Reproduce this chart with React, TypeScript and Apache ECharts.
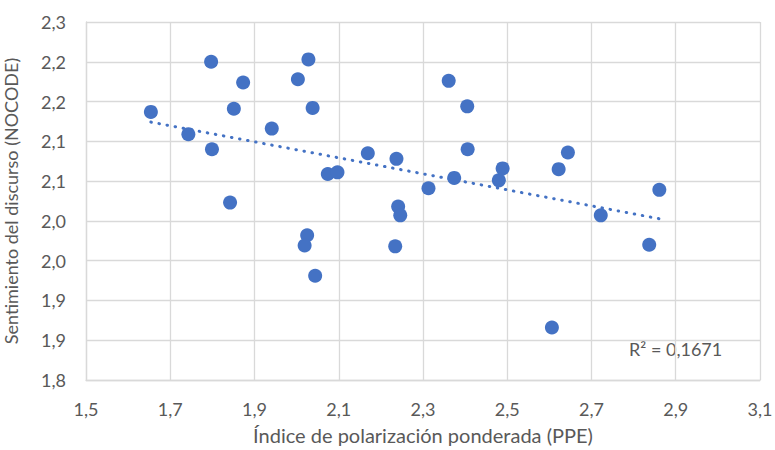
import React, { useEffect, useRef } from "react";
import * as echarts from "echarts";

const ppe = [
  1.654, 1.743, 1.797, 1.799, 1.842, 1.851, 1.873, 1.941, 2.003, 2.028, 2.038,
  2.025, 2.019, 2.044, 2.074, 2.097, 2.169, 2.237, 2.241, 2.246, 2.234, 2.313,
  2.361, 2.374, 2.405, 2.406, 2.480, 2.489, 2.622, 2.644, 2.606, 2.722, 2.837, 2.861,
];
const sentimiento = [
  2.137, 2.109, 2.2, 2.09, 2.023, 2.141, 2.174, 2.116, 2.178, 2.203, 2.142,
  1.982, 1.969, 1.931, 2.059, 2.061, 2.085, 2.078, 2.018, 2.007, 1.968, 2.041,
  2.176, 2.054, 2.144, 2.09, 2.051, 2.066, 2.065, 2.086, 1.866, 2.007, 1.97, 2.039,
];
const xTickLabels = ["1,5", "1,7", "1,9", "2,1", "2,3", "2,5", "2,7", "2,9", "3,1"];
const yTickLabels = ["1,8", "1,9", "1,9", "2,0", "2,0", "2,1", "2,1", "2,2", "2,2", "2,3"];
const r2Label = "R² = 0,1671";
const xTitle = "Índice de polarización ponderada (PPE)";
const yTitle = "Sentimiento del discurso (NOCODE)";

function regression(xs: number[], ys: number[]) {
  const n = xs.length;
  const mx = xs.reduce((a, b) => a + b, 0) / n;
  const my = ys.reduce((a, b) => a + b, 0) / n;
  let sxy = 0, sxx = 0;
  for (let i = 0; i < n; i++) {
    sxy += (xs[i] - mx) * (ys[i] - my);
    sxx += (xs[i] - mx) * (xs[i] - mx);
  }
  const b = sxy / sxx;
  return { a: my - b * mx, b };
}

export default function App() {
  const ref = useRef<HTMLDivElement>(null);
  useEffect(() => {
    document.body.style.margin = "0";
    const chart = echarts.init(ref.current!, null, { renderer: "svg" });
    const { a, b } = regression(ppe, sentimiento);
    const xMin = Math.min(...ppe);
    const xMax = Math.max(...ppe);
    const font = "Lato";
    const textColor = "#595959";
    const gridColor = "#d9d9d9";
    chart.setOption({
      animation: false,
      backgroundColor: "#ffffff",
      grid: {
        left: 86,
        right: 15,
        top: 22,
        bottom: 70,
        containLabel: false,
        outerBoundsMode: "none",
      },
      xAxis: {
        type: "value",
        min: 1.5,
        max: 3.1,
        interval: 0.2,
        name: xTitle,
        nameLocation: "middle",
        nameGap: 45,
        nameTextStyle: { color: textColor, fontFamily: font, fontSize: 20, lineHeight: 20 },
        axisLine: { show: true, lineStyle: { color: gridColor, width: 1.3 } },
        axisTick: { show: false },
        splitLine: { show: true, lineStyle: { color: gridColor, width: 1.3 } },
        axisLabel: {
          color: textColor,
          fontFamily: font,
          fontSize: 18,
          margin: 20,
          formatter: (v: number) => xTickLabels[Math.round((v - 1.5) / 0.2)] ?? "",
        },
      },
      yAxis: {
        type: "value",
        min: 1.8,
        max: 2.25,
        interval: 0.05,
        name: yTitle,
        nameLocation: "middle",
        nameGap: 66,
        nameTextStyle: { color: textColor, fontFamily: font, fontSize: 18, lineHeight: 18 },
        axisLine: { show: true, lineStyle: { color: gridColor, width: 1.3 } },
        axisTick: { show: false },
        splitLine: { show: true, lineStyle: { color: gridColor, width: 1.3 } },
        axisLabel: {
          color: textColor,
          fontFamily: font,
          fontSize: 18,
          margin: 20,
          formatter: (v: number) => yTickLabels[Math.round((v - 1.8) / 0.05)] ?? "",
        },
      },
      series: [
        {
          type: "line",
          data: [
            [xMin, a + b * xMin],
            [xMax, a + b * xMax],
          ],
          symbol: "none",
          silent: true,
          z: 1,
          lineStyle: { color: "#4472C4", width: 3, type: [0.5, 7.7], cap: "round" },
        },
        {
          type: "scatter",
          data: ppe.map((x, i) => [x, sentimiento[i]]),
          symbolSize: 14,
          z: 2,
          itemStyle: { color: "#4472C4", opacity: 1 },
        },
      ],
      graphic: [
        {
          type: "text",
          left: 629,
          top: 340,
          style: { text: r2Label, fill: textColor, font: `18px "${font}"` },
        },
      ],
    });
    return () => chart.dispose();
  }, []);
  return <div ref={ref} style={{ width: 775, height: 450 }} />;
}
